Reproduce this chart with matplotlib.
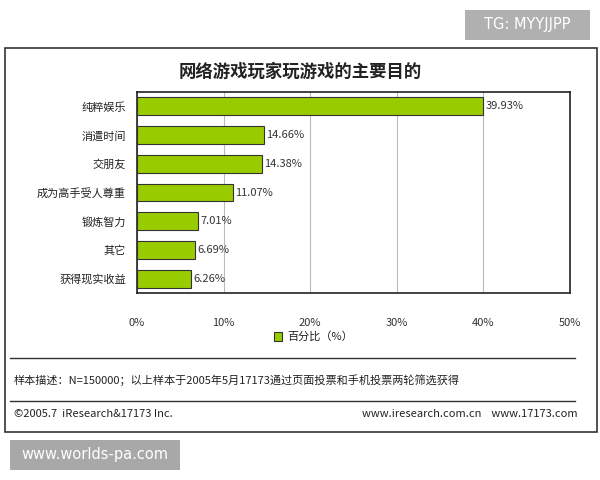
import matplotlib.pyplot as plt
from matplotlib.patches import Rectangle
from matplotlib.lines import Line2D

plt.rcParams['font.family'] = ['Noto Sans CJK SC', 'DejaVu Sans']

categories = ['纯粹娱乐', '消遣时间', '交朋友', '成为高手受人尊重', '锻炼智力', '其它', '获得现实收益']
values = [39.93, 14.66, 14.38, 11.07, 7.01, 6.69, 6.26]
xticks = [0, 10, 20, 30, 40, 50]

fig = plt.figure(figsize=(6, 4.8), dpi=100)
fig.patch.set_facecolor('white')

# outer frame
fig.add_artist(Rectangle((5/600, 1-432/480), 592/600, 384/480, transform=fig.transFigure,
                         fill=False, edgecolor='#333333', linewidth=1.2))

ax = fig.add_axes([137/600, 1-293/480, 433/600, 201/480])
y = list(range(len(categories)))[::-1]
ax.barh(y, values, height=0.62, color='#99cc00', edgecolor='#333333', linewidth=0.8, zorder=3)
for yi, v in zip(y, values):
    ax.text(v + 0.3, yi, f'{v:.2f}%', va='center', ha='left', fontsize=8, color='#333333')
ax.set_xlim(0, 50)
ax.set_ylim(-0.5, len(categories) - 0.5)
ax.set_xticks(xticks)
ax.set_xticklabels([f'{t}%' for t in xticks], fontsize=8, color='#333333')
ax.tick_params(axis='x', length=0, pad=18)
ax.set_yticks(y)
ax.set_yticklabels(categories, fontsize=8, color='#222222')
ax.tick_params(axis='y', length=0, pad=8)
ax.grid(axis='x', color='#bbbbbb', linewidth=0.8, zorder=0)
for s in ax.spines.values():
    s.set_edgecolor('#222222')
    s.set_linewidth(1.2)

fig.text(0.5, 1-72/480, '网络游戏玩家玩游戏的主要目的', ha='center', va='center',
         fontsize=12.5, fontweight='bold', color='#222222')

# legend
fig.add_artist(Rectangle((274/600, 1-341/480), 8/600, 9/480, transform=fig.transFigure,
                         facecolor='#99cc00', edgecolor='#333333', linewidth=0.8))
fig.text(287/600, 1-336/480, '百分比（%）', ha='left', va='center', fontsize=8, color='#222222')

fig.add_artist(Line2D([10/600, 575/600], [1-358/480, 1-358/480], color='#333333', linewidth=1))
fig.text(14/600, 1-380/480, '样本描述：N=150000；以上样本于2005年5月17173通过页面投票和手机投票两轮筛选获得',
         ha='left', va='center', fontsize=8, color='#222222')
fig.add_artist(Line2D([10/600, 575/600], [1-401/480, 1-401/480], color='#333333', linewidth=1))
fig.text(14/600, 1-414/480, '©2005.7  iResearch&17173 Inc.', ha='left', va='center', fontsize=8, color='#222222')
fig.text(578/600, 1-414/480, 'www.iresearch.com.cn    www.17173.com', ha='right', va='center',
         fontsize=8, color='#222222')

# watermarks
fig.add_artist(Rectangle((465/600, 1-40/480), 125/600, 30/480, transform=fig.transFigure,
                         facecolor='#b0b0b0', edgecolor='none'))
fig.text(527/600, 1-25/480, 'TG: MYYJJPP', ha='center', va='center', fontsize=10.5, color='white',
         family='DejaVu Sans')
fig.add_artist(Rectangle((10/600, 1-470/480), 170/600, 30/480, transform=fig.transFigure,
                         facecolor='#a8a8a8', edgecolor='none'))
fig.text(95/600, 1-455/480, 'www.worlds-pa.com', ha='center', va='center', fontsize=10.5, color='white',
         family='DejaVu Sans')

fig.savefig('out.png', dpi=100)
